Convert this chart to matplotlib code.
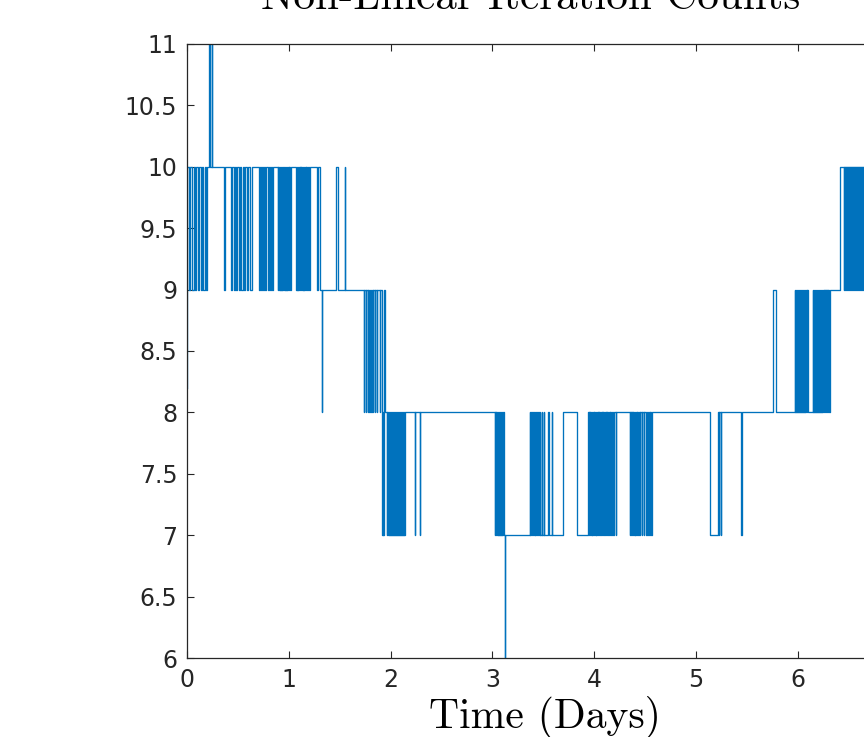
import matplotlib
matplotlib.use("Agg")
import matplotlib.pyplot as plt

# Iteration-count history, stored as phases: each phase starts at a time (days)
# on a base count, with short excursions (start, end, count) away from that base.
start_point = (0.000, 8.2)

phase_a_start, phase_a_base = 0.003, 10
phase_a_dips = [
    (0.015, 0.030, 9), (0.049, 0.069, 9), (0.079, 0.088, 9), (0.108, 0.118, 9),
    (0.133, 0.147, 9), (0.157, 0.172, 9), (0.182, 0.192, 9),
    (0.219, 0.229, 11), (0.241, 0.250, 11),
    (0.363, 0.373, 9), (0.432, 0.447, 9),
    (0.462, 0.472, 9), (0.486, 0.496, 9), (0.511, 0.521, 9), (0.530, 0.550, 9),
    (0.560, 0.570, 9), (0.589, 0.599, 9), (0.619, 0.634, 9),
    (0.707, 0.717, 9), (0.727, 0.737, 9), (0.747, 0.756, 9), (0.766, 0.781, 9),
    (0.791, 0.801, 9), (0.815, 0.825, 9), (0.835, 0.845, 9),
    (0.894, 0.899, 9), (0.904, 0.909, 9), (0.914, 0.919, 9), (0.924, 0.929, 9),
    (0.934, 0.939, 9), (0.943, 0.948, 9), (0.953, 0.958, 9), (0.963, 0.968, 9),
    (0.973, 0.978, 9), (0.983, 0.988, 9), (0.992, 0.997, 9), (1.002, 1.007, 9),
    (1.012, 1.017, 9),
    (1.071, 1.076, 9), (1.081, 1.086, 9), (1.091, 1.096, 9), (1.100, 1.105, 9),
    (1.110, 1.115, 9), (1.120, 1.125, 9), (1.130, 1.135, 9), (1.140, 1.145, 9),
    (1.150, 1.155, 9), (1.159, 1.164, 9), (1.169, 1.174, 9), (1.179, 1.184, 9),
    (1.194, 1.208, 9), (1.277, 1.287, 9),
]

phase_b_start, phase_b_base = 1.306, 9
phase_b_dips = [
    (1.326, 1.330, 8), (1.463, 1.483, 10), (1.552, 1.556, 10),
    (1.739, 1.744, 8), (1.757, 1.762, 8), (1.775, 1.780, 8), (1.790, 1.795, 8),
    (1.808, 1.813, 8), (1.825, 1.830, 8), (1.845, 1.850, 8), (1.862, 1.867, 8),
    (1.893, 1.898, 8),
]

phase_c_start, phase_c_base = 1.915, 8
phase_c_dips = [
    (1.917, 1.922, 7), (1.930, 1.935, 7), (1.940, 1.945, 9),
    (1.965, 1.970, 7), (1.975, 1.980, 7), (1.985, 1.990, 7), (1.995, 2.000, 7),
    (2.005, 2.010, 7), (2.015, 2.020, 7), (2.025, 2.030, 7), (2.035, 2.040, 7),
    (2.045, 2.050, 7), (2.055, 2.060, 7), (2.065, 2.070, 7), (2.075, 2.080, 7),
    (2.085, 2.090, 7), (2.095, 2.100, 7), (2.105, 2.110, 7), (2.115, 2.120, 7),
    (2.125, 2.130, 7), (2.134, 2.139, 7),
    (2.238, 2.243, 7), (2.285, 2.290, 7),
    (3.026, 3.031, 7), (3.036, 3.041, 7), (3.046, 3.051, 7), (3.056, 3.061, 7),
    (3.066, 3.071, 7), (3.076, 3.081, 7), (3.086, 3.091, 7), (3.096, 3.101, 7),
]

phase_d_start, phase_d_base = 3.110, 7
phase_d_dips = [
    (3.122, 3.127, 6),
    (3.369, 3.374, 8), (3.384, 3.389, 8), (3.400, 3.405, 8), (3.418, 3.423, 8),
    (3.432, 3.437, 8), (3.450, 3.455, 8), (3.466, 3.471, 8), (3.485, 3.490, 8),
    (3.505, 3.512, 8),
    (3.550, 3.554, 8), (3.583, 3.587, 8), (3.694, 3.831, 8),
]

phase_e_start, phase_e_base = 3.939, 8
phase_e_dips = [
    (3.945, 3.950, 7), (3.958, 3.963, 7), (3.970, 3.975, 7), (3.983, 3.988, 7),
    (3.996, 4.001, 7), (4.009, 4.014, 7), (4.022, 4.027, 7), (4.035, 4.040, 7),
    (4.048, 4.053, 7), (4.061, 4.066, 7), (4.074, 4.079, 7), (4.087, 4.092, 7),
    (4.100, 4.105, 7), (4.113, 4.118, 7), (4.126, 4.131, 7), (4.139, 4.144, 7),
    (4.152, 4.157, 7), (4.168, 4.172, 7), (4.190, 4.195, 7), (4.212, 4.220, 7),
    (4.352, 4.357, 7), (4.362, 4.367, 7), (4.372, 4.377, 7), (4.382, 4.387, 7),
    (4.392, 4.397, 7), (4.405, 4.410, 7), (4.418, 4.423, 7), (4.432, 4.437, 7),
    (4.450, 4.455, 7), (4.468, 4.473, 7), (4.490, 4.495, 7), (4.512, 4.517, 7),
    (4.530, 4.535, 7), (4.545, 4.550, 7), (4.560, 4.567, 7),
    (5.138, 5.216, 7), (5.226, 5.231, 7), (5.245, 5.250, 7), (5.447, 5.451, 7),
    (5.760, 5.786, 9),
    (5.972, 5.977, 9), (5.982, 5.987, 9), (5.992, 5.997, 9), (6.002, 6.007, 9),
    (6.012, 6.017, 9), (6.022, 6.027, 9), (6.032, 6.037, 9), (6.042, 6.047, 9),
    (6.052, 6.057, 9), (6.062, 6.067, 9), (6.072, 6.077, 9), (6.082, 6.087, 9),
    (6.092, 6.098, 9),
    (6.149, 6.154, 9), (6.159, 6.164, 9), (6.169, 6.174, 9), (6.179, 6.184, 9),
    (6.189, 6.194, 9), (6.199, 6.204, 9), (6.209, 6.214, 9), (6.219, 6.224, 9),
    (6.229, 6.234, 9), (6.239, 6.244, 9), (6.249, 6.254, 9), (6.259, 6.264, 9),
    (6.269, 6.274, 9), (6.279, 6.284, 9), (6.289, 6.294, 9), (6.299, 6.305, 9),
]

phase_f_start, phase_f_base = 6.316, 9
phase_f_dips = []

phase_g_start, phase_g_base = 6.421, 10
phase_g_dips = [
    (6.452, 6.457, 9), (6.462, 6.467, 9), (6.472, 6.477, 9), (6.482, 6.487, 9),
    (6.492, 6.497, 9), (6.502, 6.507, 9), (6.512, 6.517, 9), (6.522, 6.527, 9),
    (6.532, 6.537, 9), (6.542, 6.547, 9), (6.552, 6.557, 9), (6.562, 6.567, 9),
    (6.572, 6.577, 9), (6.582, 6.587, 9), (6.592, 6.597, 9), (6.602, 6.607, 9),
    (6.612, 6.617, 9), (6.622, 6.627, 9), (6.632, 6.637, 9), (6.642, 6.647, 9),
    (6.652, 6.657, 9), (6.662, 6.667, 9), (6.672, 6.677, 9), (6.682, 6.687, 9),
    (6.692, 6.697, 9), (6.702, 6.707, 9), (6.712, 6.717, 9), (6.722, 6.727, 9),
    (6.732, 6.737, 9), (6.742, 6.747, 9), (6.752, 6.757, 9),
]
end_day = 6.76

x_ticks = [0, 1, 2, 3, 4, 5, 6]
y_ticks = [6, 6.5, 7, 7.5, 8, 8.5, 9, 9.5, 10, 10.5, 11]
y_tick_labels = ["6", "6.5", "7", "7.5", "8", "8.5", "9", "9.5", "10", "10.5", "11"]

phases = [
    (phase_a_start, phase_a_base, phase_a_dips),
    (phase_b_start, phase_b_base, phase_b_dips),
    (phase_c_start, phase_c_base, phase_c_dips),
    (phase_d_start, phase_d_base, phase_d_dips),
    (phase_e_start, phase_e_base, phase_e_dips),
    (phase_f_start, phase_f_base, phase_f_dips),
    (phase_g_start, phase_g_base, phase_g_dips),
]

days = [start_point[0]]
counts = [start_point[1]]
for start, base, dips in phases:
    days.append(start)
    counts.append(base)
    for a, b, level in dips:
        days += [a, b]
        counts += [level, base]
days.append(end_day)
counts.append(counts[-1])

W, H = 864, 737
fig = plt.figure(figsize=(W / 100, H / 100), dpi=100)
ax_left, ax_right, ax_top, ax_bottom = 187, 875, 44, 658
ax = fig.add_axes([ax_left / W, 1 - ax_bottom / H,
                   (ax_right - ax_left) / W, (ax_bottom - ax_top) / H])

ax.step(days, counts, where="post", color="#0072BD", lw=0.95)

axis_col = "#262626"
ax.set_xlim(0, end_day)
ax.set_ylim(6, 11)
ax.set_xticks(x_ticks)
ax.set_xticklabels([str(v) for v in x_ticks])
ax.set_yticks(y_ticks)
ax.set_yticklabels(y_tick_labels)
ax.tick_params(direction="in", length=5, width=0.8, colors=axis_col,
               labelsize=17, top=True, right=True, pad=7)
for sp in ax.spines.values():
    sp.set_color(axis_col)
    sp.set_linewidth(0.9)

fig.text(531 / W, 1 - 9 / H, "Non-Linear Iteration Counts", family="cmr10",
         fontsize=31, ha="center", va="baseline", color="black")
fig.text(545 / W, 1 - 728 / H, "Time (Days)", family="cmr10",
         fontsize=30, ha="center", va="baseline", color="black")

fig.savefig("out.png", dpi=100)
